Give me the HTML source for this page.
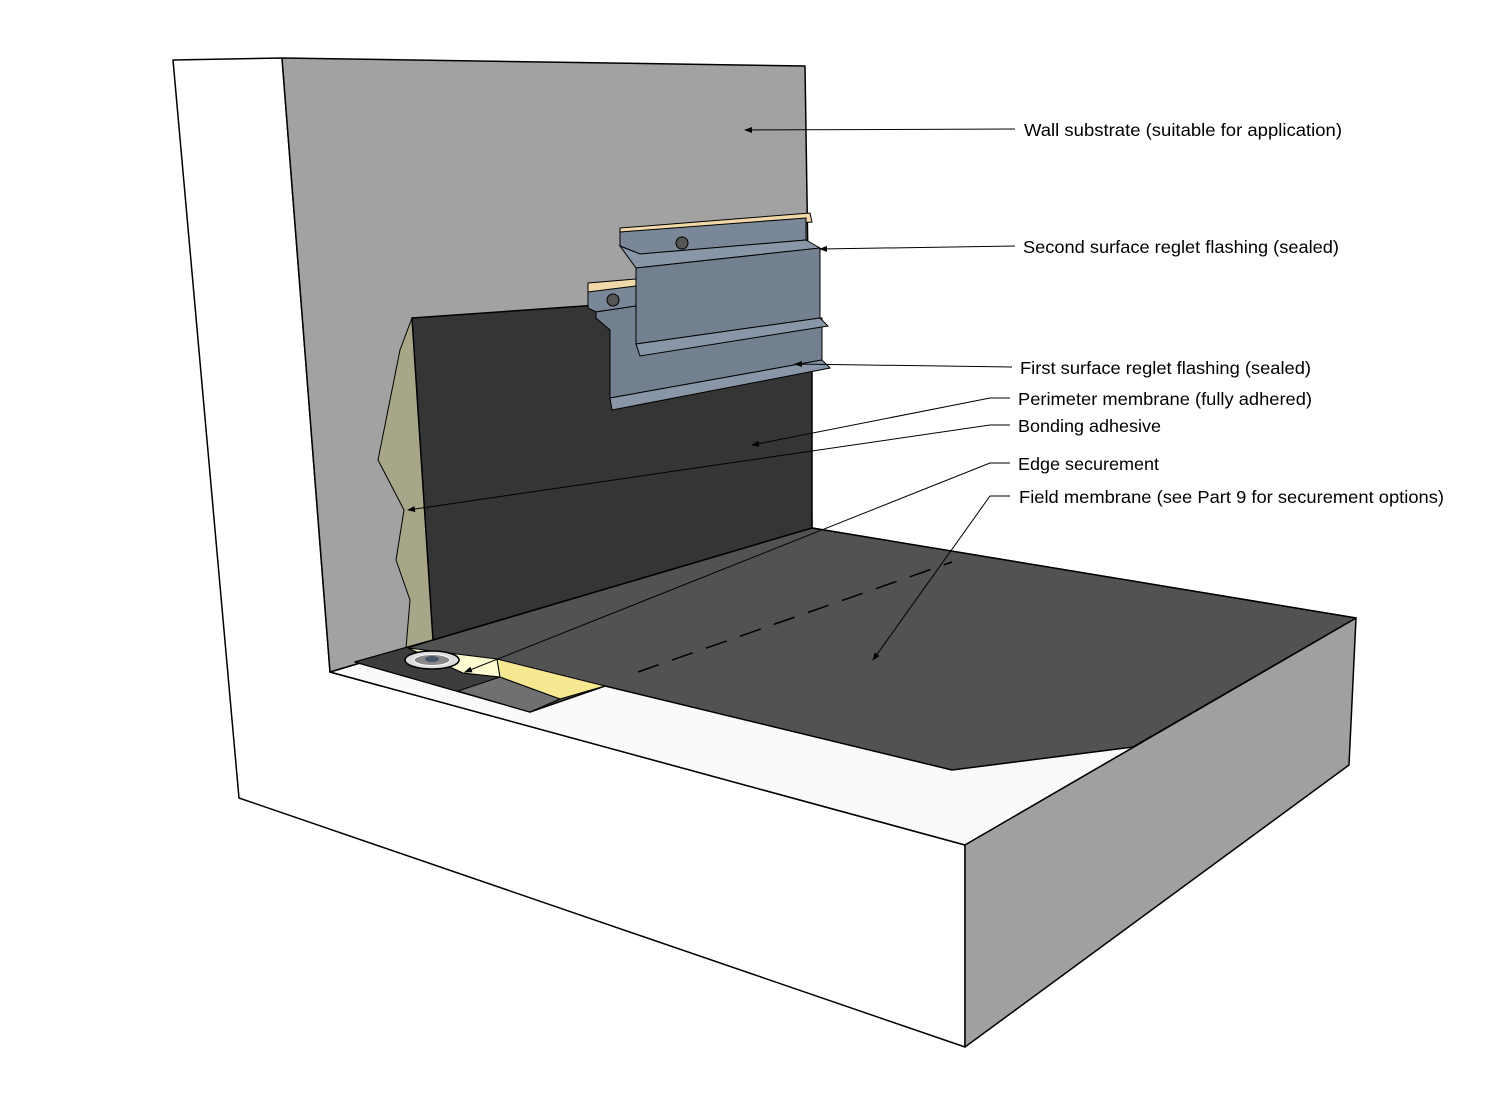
<!DOCTYPE html>
<html><head><meta charset="utf-8"><style>
html,body{margin:0;padding:0;background:#fff;width:1500px;height:1100px;overflow:hidden}
svg text{font-family:"Liberation Sans","DejaVu Sans",sans-serif;font-size:17.5px;fill:#000}
</style></head><body>
<svg width="1500" height="1100" viewBox="0 0 1500 1100" xmlns="http://www.w3.org/2000/svg">
<defs><marker id="a" markerWidth="8" markerHeight="6" refX="7" refY="3" orient="auto"><path d="M0,0 L8,3 L0,6 z" fill="#000"/></marker></defs>
<g stroke="#000" stroke-width="1.5" stroke-linejoin="round">
<polygon points="173,60 282,58 330,672 965,845 965,1047 239,798" fill="#fff"/>
<polygon points="330,672 812,528 1356,618 965,845" fill="#fafafa"/>
<polygon points="965,845 1356,618 1349,765 965,1047" fill="#a0a0a0"/>
<polygon points="282,58 805,66 812,528 330,672" fill="#a2a2a2"/>
<polygon points="412,318 433,640 406,648 410,600 396,560 404,510 378,460 390,400 400,350" fill="#a8a688" stroke-width="1"/>
<polygon points="412,318 812,290 812,528 433,640" fill="#353535"/>
<polygon points="433,640 812,528 1356,618 1133,747 952,770 605,686 530,712 355,662" fill="#525252"/>
<polygon points="355,662 433,640 408,648 463,673 500,677 560,699 530,712" fill="#3d3d3d" stroke-width="1"/>
<polygon points="458,691 500,677 560,699 530,712" fill="#707070" stroke-width="1"/>
<polygon points="408,648 497,659 500,677 463,673" fill="#fdfbd0" stroke-width="1"/>
<polygon points="497,659 529,667 605,686 560,699 500,677" fill="#f5e890" stroke-width="1"/>
</g>
<line x1="638" y1="672" x2="952" y2="562" stroke="#000" stroke-width="1.5" stroke-dasharray="22,14"/>
<ellipse cx="432" cy="660" rx="27" ry="9" fill="#ddd" stroke="#000" stroke-width="1.5"/>
<ellipse cx="432" cy="660" rx="18" ry="5.5" fill="#888" stroke="#fff" stroke-width="1"/>
<ellipse cx="432" cy="659" rx="7" ry="3" fill="#456"/>
<g stroke="#000" stroke-width="1" fill="#73808f">
<polygon points="588,283 636,279 636,290 588,296" fill="#f0d8a8"/>
<polygon points="588,292 636,286 636,306 596,312 588,308" fill="#7a8798"/>
<polygon points="596,312 636,306 636,344 822,318 822,360 610,398 610,330 596,318" fill="#73808f"/>
<polygon points="610,398 822,360 830,368 612,410" fill="#8896a8"/>
<circle cx="613" cy="300" r="6" fill="#555"/>
</g>
<g stroke="#000" stroke-width="1">
<polygon points="620,228 810,213 812,222 620,236" fill="#f0d8a8"/>
<polygon points="620,232 806,218 806,240 640,254 620,246" fill="#7a8798"/>
<polygon points="620,246 640,254 806,240 820,248 636,268" fill="#8896a8"/>
<polygon points="636,268 820,248 820,318 636,344" fill="#73808f"/>
<polygon points="636,344 820,318 828,326 640,356" fill="#8896a8"/>
<circle cx="682" cy="243" r="6" fill="#555"/>
</g>
<g stroke="#000" stroke-width="1" fill="none" marker-end="url(#a)">
<polyline points="1015,129 745,130"/>
<polyline points="1015,246 820,249"/>
<polyline points="1012,367 795,364"/>
<polyline points="1010,398 990,398 752,445"/>
<polyline points="1010,425 990,425 408,510"/>
<polyline points="1010,463 990,463 465,672"/>
<polyline points="1010,496 990,496 873,660"/>
</g>
<text x="1024" y="136" textLength="318" lengthAdjust="spacingAndGlyphs">Wall substrate (suitable for application)</text>
<text x="1023" y="253" textLength="316" lengthAdjust="spacingAndGlyphs">Second surface reglet flashing (sealed)</text>
<text x="1020" y="374" textLength="291" lengthAdjust="spacingAndGlyphs">First surface reglet flashing (sealed)</text>
<text x="1018" y="405" textLength="294" lengthAdjust="spacingAndGlyphs">Perimeter membrane (fully adhered)</text>
<text x="1018" y="432" textLength="143" lengthAdjust="spacingAndGlyphs">Bonding adhesive</text>
<text x="1018" y="470" textLength="141" lengthAdjust="spacingAndGlyphs">Edge securement</text>
<text x="1019" y="503" textLength="425" lengthAdjust="spacingAndGlyphs">Field membrane (see Part 9 for securement options)</text>
</svg>
</body></html>
